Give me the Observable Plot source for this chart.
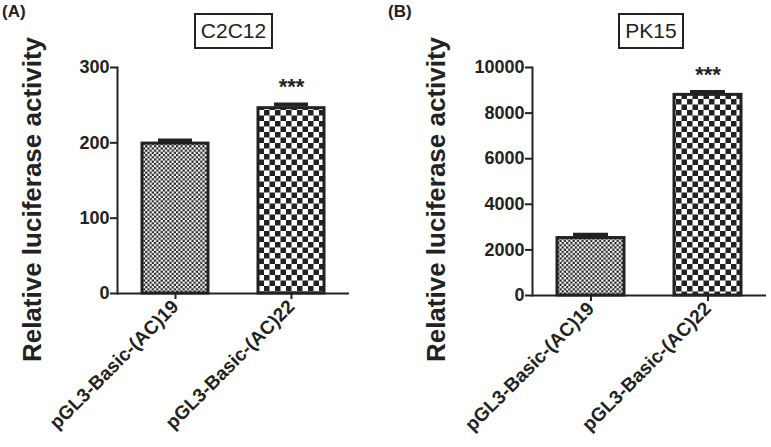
<!DOCTYPE html>
<html>
<head>
<meta charset="utf-8">
<script src="https://cdn.jsdelivr.net/npm/d3@7"></script>
<script src="https://cdn.jsdelivr.net/npm/@observablehq/plot@0.6"></script>
<style>
  html, body { margin: 0; padding: 0; background: #fff; }
  #wrap { position: relative; width: 771px; height: 447px; font-family: "Liberation Sans", Arial, sans-serif; color: #222; }
  .panel { position: absolute; top: 0; overflow: visible; }
  .tag { position: absolute; top: 2px; font-size: 17px; font-weight: bold; }
  .box { position: absolute; top: 13px; height: 32px; border: 2.5px solid #222; font-size: 21px; line-height: 32px; text-align: center; box-sizing: content-box; }
</style>
</head>
<body>
<svg width="0" height="0" style="position:absolute">
  <defs>
    <pattern id="fine" width="4.4" height="4.4" patternUnits="userSpaceOnUse">
      <rect width="4.4" height="4.4" fill="#fff"/>
      <rect width="2.2" height="2.2" fill="#222"/>
      <rect x="2.2" y="2.2" width="2.2" height="2.2" fill="#222"/>
    </pattern>
    <pattern id="coarse" width="11" height="11" patternUnits="userSpaceOnUse">
      <rect width="11" height="11" fill="#fff"/>
      <rect width="5.5" height="5.5" fill="#222"/>
      <rect x="5.5" y="5.5" width="5.5" height="5.5" fill="#222"/>
    </pattern>
  </defs>
</svg>
<div id="wrap">
  <div class="tag" style="left:2px">(A)</div>
  <div class="tag" style="left:388px">(B)</div>
  <div class="box" style="left:194px;width:75px">C2C12</div>
  <div class="box" style="left:618px;width:62px">PK15</div>
</div>
<script>
const groups = ["pGL3-Basic-(AC)19", "pGL3-Basic-(AC)22"];
const c2c12Values = [199, 246];
const c2c12Errors = [4, 5];
const pk15Values = [2520, 8800];
const pk15Errors = [140, 120];
const significance = ["", "***"];
const patterns = ["fine", "coarse"];
const c2c12Ticks = [0, 100, 200, 300];
const pk15Ticks = [0, 2000, 4000, 6000, 8000, 10000];
const yLabel = "Relative luciferase activity";

function panel(values, errors, ticks, opts) {
  const data = groups.map((g, i) => ({name: g, value: values[i], err: errors[i], sig: significance[i], pattern: patterns[i]}));
  const marks = [];
  data.forEach(d => {
    marks.push(Plot.ruleX([d], {x: "name", y1: "value", y2: e => e.value + e.err, stroke: "#222", strokeWidth: 2}));
    marks.push(Plot.tickY([d], {x: "name", y: e => e.value + e.err, stroke: "#222", strokeWidth: 4, insetLeft: 16, insetRight: 16}));
    marks.push(Plot.barY([d], {x: "name", y: "value", fill: `url(#${d.pattern})`, stroke: "#222", strokeWidth: 3}));
  });
  marks.push(Plot.text(data.filter(d => d.sig), {x: "name", y: d => d.value + d.err, text: "sig", dy: -17, fontSize: 22, fontWeight: "bold"}));
  marks.push(Plot.ruleY([0], {stroke: "#222", strokeWidth: 2}));
  marks.push(Plot.frame({anchor: "left", stroke: "#222", strokeWidth: 2}));
  marks.push(Plot.axisY({ticks, tickSize: 7, tickPadding: 1, strokeWidth: 2, label: null, fontSize: 18, tickFormat: d => String(d)}));
  marks.push(Plot.axisX({tickSize: 6, tickRotate: -45, tickPadding: 4, strokeWidth: 2, label: null, fontSize: 19}));
  marks.push(Plot.text([yLabel], {frameAnchor: "left", textAnchor: "middle", rotate: -90, dx: opts.labelDx, dy: opts.labelDy, fontSize: 26, fontWeight: "bold", text: d => d}));
  return Plot.plot({
    width: opts.width,
    height: 447,
    marginLeft: opts.marginLeft,
    marginRight: opts.marginRight,
    marginTop: opts.marginTop,
    marginBottom: opts.marginBottom,
    style: {fontFamily: "'Liberation Sans', Arial, sans-serif", fontSize: "17px", fontWeight: "bold", color: "#222", background: "transparent", overflow: "visible"},
    x: {domain: groups, paddingInner: 0.431, paddingOuter: 0.215, axis: null},
    y: {domain: [ticks[0], ticks[ticks.length - 1]], axis: null},
    marks
  });
}

const a = panel(c2c12Values, c2c12Errors, c2c12Ticks, {width: 390, marginLeft: 117, marginRight: 41, marginTop: 67, marginBottom: 154, labelDx: -85, labelDy: 19});
const b = panel(pk15Values, pk15Errors, pk15Ticks, {width: 381, marginLeft: 142, marginRight: 5, marginTop: 67, marginBottom: 152, labelDx: -96, labelDy: 18});
a.classList.add("panel"); a.style.left = "0px";
b.classList.add("panel"); b.style.left = "390px";
document.getElementById("wrap").append(a, b);
</script>
</body>
</html>
